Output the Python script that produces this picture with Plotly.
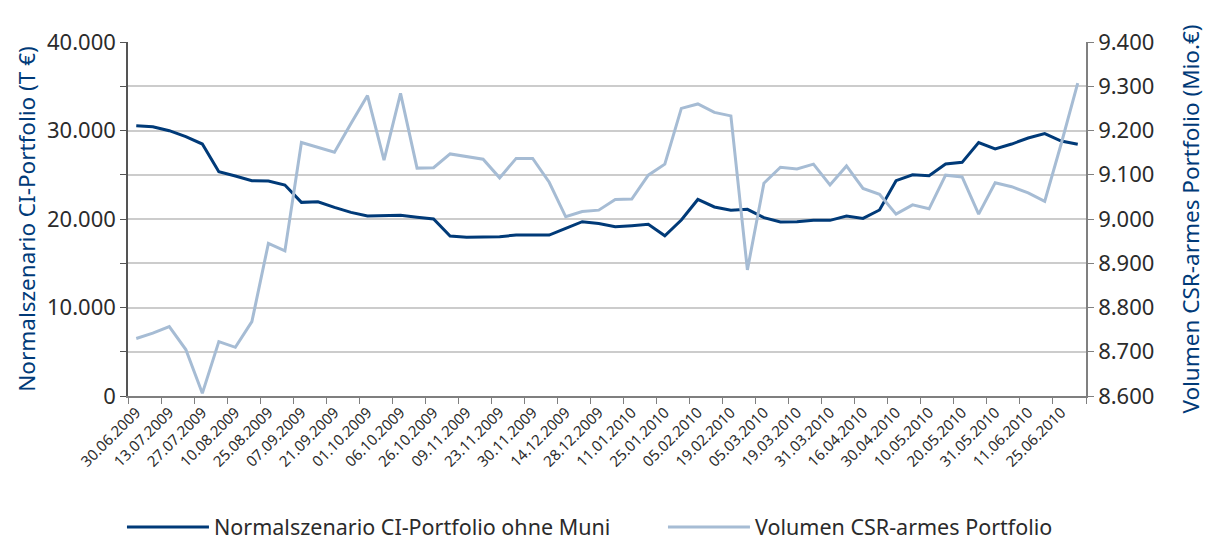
import plotly.graph_objects as go

tick_labels = ["30.06.2009", "13.07.2009", "27.07.2009", "10.08.2009", "25.08.2009",
               "07.09.2009", "21.09.2009", "01.10.2009", "06.10.2009", "26.10.2009",
               "09.11.2009", "23.11.2009", "30.11.2009", "14.12.2009", "28.12.2009",
               "11.01.2010", "25.01.2010", "05.02.2010", "19.02.2010", "05.03.2010",
               "19.03.2010", "31.03.2010", "16.04.2010", "30.04.2010", "10.05.2010",
               "20.05.2010", "31.05.2010", "11.06.2010", "25.06.2010"]

ci_portfolio = [30550, 30430, 29980, 29300, 28470, 25350, 24860, 24330, 24290, 23840,
                21880, 21950, 21320, 20750, 20340, 20380, 20410, 20190, 20000, 18080,
                17950, 17970, 18000, 18190, 18190, 18190, 18950, 19700, 19500, 19130,
                19250, 19400, 18110, 19890, 22210, 21360, 20980, 21090, 20150, 19660,
                19680, 19850, 19850, 20340, 20070, 21020, 24330, 25000, 24900, 26210,
                26400, 28630, 27910, 28470, 29150, 29660, 28810, 28440]

csr_volume = [8730, 8742, 8757, 8705, 8606, 8723, 8710, 8768, 8945, 8928,
              9173, 9162, 9151, 9216, 9279, 9133, 9284, 9115, 9116, 9147,
              9141, 9135, 9093, 9137, 9137, 9083, 9005, 9017, 9020, 9044,
              9045, 9099, 9124, 9250, 9260, 9241, 9233, 8885, 9081, 9117,
              9113, 9124, 9077, 9120, 9069, 9056, 9011, 9032, 9023, 9099,
              9095, 9011, 9082, 9073, 9059, 9040, 9170, 9307]

x_idx = list(range(len(ci_portfolio)))
label_pos = x_idx[::2]
bound_pos = [i - 0.5 for i in range(0, len(x_idx) + 1, 2)]

DARK = "#003a78"
LIGHT = "#a6bcd4"
FONT = "Noto Sans"
TXT = "#2b2b2b"

fig = go.Figure()
fig.add_trace(go.Scatter(x=x_idx, y=ci_portfolio, mode="lines",
                         name="Normalszenario CI-Portfolio ohne Muni",
                         line=dict(color=DARK, width=3)))
fig.add_trace(go.Scatter(x=x_idx, y=csr_volume, mode="lines", yaxis="y2",
                         name="Volumen CSR-armes Portfolio",
                         line=dict(color=LIGHT, width=3)))

fig.update_layout(
    width=1211, height=560,
    margin=dict(l=120, r=133, t=34, b=172),
    paper_bgcolor="white", plot_bgcolor="white",
    separators=",.",
    font=dict(family=FONT, color=TXT),
    showlegend=True,
    legend=dict(orientation="h", x=-0.0063, xanchor="left", y=-0.428, yanchor="bottom",
                font=dict(size=21.5, color=TXT, family=FONT),
                itemwidth=82, entrywidth=444, tracegroupgap=0),
    xaxis=dict(range=[-0.5, len(x_idx) - 0.5], tickmode="array",
               tickvals=label_pos, ticktext=tick_labels, tickangle=-45,
               ticks="", showgrid=False, zeroline=False, automargin=False,
               showline=True, linecolor="#7f7f7f", linewidth=1.5,
               tickfont=dict(size=15, color=TXT, family=FONT),
               minor=dict(tickmode="array", tickvals=bound_pos, ticks="outside",
                          ticklen=6, tickcolor="#7f7f7f", tickwidth=1, showgrid=False)),
    yaxis=dict(range=[0, 40000], tickmode="linear", tick0=0, dtick=10000,
               tickformat=",d", showgrid=True, gridcolor="#cccccc", gridwidth=1.5,
               zeroline=False, showline=True, linecolor="#555555", linewidth=1.5,
               ticks="outside", ticklen=6, tickcolor="#555555", automargin=False,
               tickfont=dict(size=22, color=TXT, family=FONT),
               minor=dict(dtick=5000, showgrid=True, gridcolor="#cccccc", gridwidth=1.5,
                          ticks="outside", ticklen=6, tickcolor="#555555"),
               title=dict(text="Normalszenario CI-Portfolio (T €)", standoff=5,
                          font=dict(size=22.5, color=DARK, family=FONT))),
    yaxis2=dict(range=[8600, 9400], overlaying="y", side="right",
                tickmode="linear", tick0=8600, dtick=100, tickformat=",d",
                showgrid=False, zeroline=False, showline=True, automargin=False,
                linecolor="#808080", linewidth=1.5,
                ticks="outside", ticklen=6, tickcolor="#808080",
                tickfont=dict(size=22, color=TXT, family=FONT),
                title=dict(text="Volumen CSR-armes Portfolio (Mio.€)", standoff=30,
                           font=dict(size=22.5, color=DARK, family=FONT))),
)

fig.write_html("out.html")
